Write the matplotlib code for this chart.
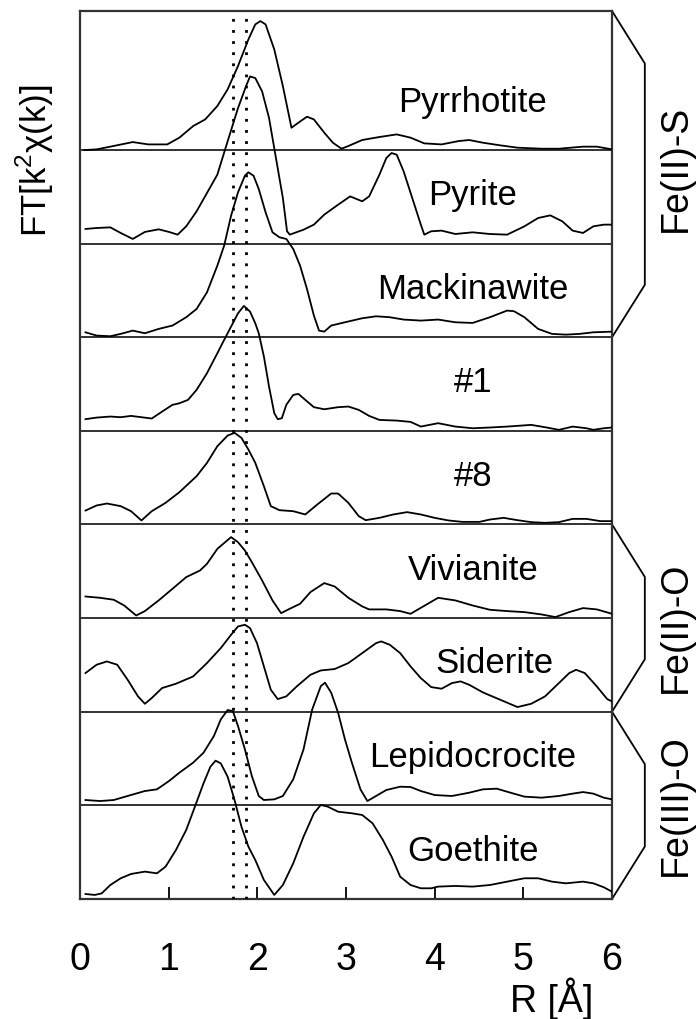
import matplotlib
matplotlib.use("Agg")
import matplotlib.pyplot as plt

plt.rcParams['font.family'] = ['Liberation Sans', 'DejaVu Sans']

# Spectra: R [A] and FT magnitude (one band = 1 unit)
names = ["Pyrrhotite", "Pyrite", "Mackinawite", "#1", "#8",
         "Vivianite", "Siderite", "Lepidocrocite", "Goethite"]

pyrrhotite_r = [0.05, 0.187, 0.342, 0.595, 0.770, 0.984, 1.121, 1.276, 1.412, 1.549, 1.665, 1.782, 1.899, 1.977,
                2.035, 2.093, 2.191, 2.288, 2.385, 2.463, 2.560, 2.638, 2.755, 2.852, 2.949, 3.027, 3.183, 3.377,
                3.572, 3.728, 3.883, 4.078, 4.272, 4.389, 4.545, 4.739, 4.934, 5.206, 5.401, 5.673, 5.829, 6.0]
pyrrhotite_ft = [0.0, 0.007, 0.036, 0.085, 0.060, 0.060, 0.132, 0.256, 0.327, 0.470, 0.648, 0.897, 1.181, 1.342,
                 1.377, 1.342, 1.075, 0.683, 0.238, 0.292, 0.356, 0.327, 0.185, 0.078, 0.014, 0.043, 0.107, 0.139,
                 0.167, 0.132, 0.071, 0.060, 0.096, 0.107, 0.078, 0.050, 0.025, 0.014, 0.014, 0.036, 0.036, 0.007]

pyrite_r = [0.062, 0.187, 0.342, 0.459, 0.595, 0.732, 0.887, 1.004, 1.101, 1.198, 1.315, 1.432, 1.549, 1.665,
            1.782, 1.879, 1.918, 1.977, 2.054, 2.132, 2.210, 2.288, 2.335, 2.366, 2.521, 2.638, 2.755, 2.911,
            3.047, 3.183, 3.261, 3.377, 3.455, 3.514, 3.572, 3.650, 3.747, 3.844, 3.883, 3.961, 4.078, 4.233,
            4.428, 4.623, 4.817, 5.012, 5.167, 5.304, 5.440, 5.556, 5.673, 5.790, 5.907, 6.0]
pyrite_ft = [0.157, 0.167, 0.174, 0.114, 0.050, 0.125, 0.153, 0.125, 0.096, 0.185, 0.345, 0.541, 0.737, 1.093,
             1.448, 1.698, 1.786, 1.769, 1.626, 1.342, 0.915, 0.488, 0.132, 0.096, 0.149, 0.203, 0.310, 0.416,
             0.505, 0.452, 0.505, 0.737, 0.915, 0.968, 0.950, 0.772, 0.488, 0.203, 0.096, 0.132, 0.139, 0.103,
             0.121, 0.103, 0.096, 0.185, 0.274, 0.302, 0.238, 0.139, 0.114, 0.185, 0.203, 0.203]

mackinawite_r = [0.062, 0.187, 0.342, 0.459, 0.595, 0.732, 0.887, 1.043, 1.198, 1.315, 1.432, 1.549, 1.626, 1.704,
                 1.782, 1.860, 1.899, 1.957, 2.016, 2.093, 2.171, 2.249, 2.327, 2.405, 2.482, 2.560, 2.638, 2.696,
                 2.755, 2.833, 2.988, 3.183, 3.339, 3.494, 3.650, 3.844, 4.039, 4.233, 4.428, 4.623, 4.817, 4.895,
                 5.012, 5.167, 5.323, 5.479, 5.634, 5.790, 6.0]
mackinawite_ft = [0.053, 0.018, 0.011, 0.036, 0.071, 0.043, 0.089, 0.125, 0.214, 0.302, 0.480, 0.765, 0.979, 1.299,
                  1.548, 1.726, 1.762, 1.726, 1.584, 1.335, 1.121, 1.068, 1.050, 0.943, 0.765, 0.516, 0.231, 0.071,
                  0.060, 0.125, 0.160, 0.203, 0.224, 0.214, 0.189, 0.178, 0.189, 0.160, 0.153, 0.214, 0.285, 0.278,
                  0.214, 0.089, 0.036, 0.028, 0.036, 0.053, 0.060]

s1_r = [0.062, 0.187, 0.342, 0.459, 0.576, 0.693, 0.809, 0.926, 1.043, 1.121, 1.218, 1.315, 1.432, 1.549, 1.626,
        1.704, 1.782, 1.848, 1.918, 1.977, 2.016, 2.074, 2.132, 2.191, 2.230, 2.276, 2.327, 2.405, 2.463, 2.541,
        2.638, 2.755, 2.911, 3.027, 3.144, 3.261, 3.377, 3.572, 3.728, 3.844, 4.039, 4.233, 4.428, 4.623, 4.817,
        5.089, 5.245, 5.401, 5.556, 5.712, 5.790, 5.907, 6.0]
s1_ft = [0.125, 0.142, 0.153, 0.146, 0.160, 0.146, 0.132, 0.206, 0.278, 0.295, 0.331, 0.438, 0.616, 0.829, 0.972,
         1.114, 1.256, 1.335, 1.274, 1.149, 1.043, 0.794, 0.473, 0.189, 0.125, 0.135, 0.278, 0.384, 0.395, 0.331,
         0.253, 0.231, 0.253, 0.260, 0.224, 0.160, 0.117, 0.110, 0.096, 0.046, 0.082, 0.046, 0.028, 0.036, 0.046,
         0.064, 0.039, 0.011, 0.046, 0.028, 0.011, 0.028, 0.036]

s8_r = [0.062, 0.187, 0.304, 0.459, 0.576, 0.693, 0.809, 0.965, 1.121, 1.315, 1.432, 1.549, 1.665, 1.743, 1.821,
        1.899, 1.977, 2.074, 2.152, 2.249, 2.405, 2.541, 2.677, 2.833, 2.911, 3.027, 3.144, 3.222, 3.377, 3.533,
        3.689, 3.844, 4.000, 4.156, 4.311, 4.506, 4.623, 4.778, 4.934, 5.089, 5.245, 5.401, 5.556, 5.712, 5.868, 6.0]
s8_ft = [0.149, 0.203, 0.224, 0.196, 0.142, 0.043, 0.142, 0.231, 0.345, 0.516, 0.658, 0.836, 0.950, 0.979, 0.925,
         0.801, 0.658, 0.409, 0.196, 0.153, 0.142, 0.107, 0.214, 0.331, 0.331, 0.231, 0.089, 0.046, 0.071, 0.107,
         0.132, 0.107, 0.071, 0.043, 0.028, 0.028, 0.053, 0.071, 0.046, 0.025, 0.018, 0.025, 0.060, 0.060, 0.036, 0.036]

vivianite_r = [0.062, 0.226, 0.381, 0.498, 0.634, 0.732, 0.887, 1.043, 1.198, 1.354, 1.432, 1.549, 1.704, 1.782,
               1.860, 1.938, 2.054, 2.171, 2.268, 2.366, 2.482, 2.599, 2.755, 2.872, 3.027, 3.183, 3.261, 3.455,
               3.611, 3.728, 3.844, 4.039, 4.233, 4.428, 4.623, 4.817, 5.012, 5.206, 5.362, 5.517, 5.673, 5.829, 6.0]
vivianite_ft = [0.231, 0.217, 0.196, 0.135, 0.028, 0.075, 0.189, 0.313, 0.438, 0.509, 0.580, 0.740, 0.865, 0.811,
                0.722, 0.598, 0.402, 0.189, 0.053, 0.100, 0.153, 0.278, 0.374, 0.338, 0.217, 0.125, 0.093, 0.093,
                0.075, 0.046, 0.110, 0.217, 0.189, 0.135, 0.089, 0.075, 0.064, 0.039, 0.011, 0.064, 0.107, 0.093, 0.046]

siderite_r = [0.062, 0.187, 0.304, 0.420, 0.537, 0.654, 0.732, 0.809, 0.926, 1.082, 1.276, 1.432, 1.588, 1.704,
              1.782, 1.860, 1.918, 1.996, 2.074, 2.152, 2.230, 2.327, 2.444, 2.599, 2.716, 2.872, 3.027, 3.183,
              3.339, 3.397, 3.494, 3.611, 3.728, 3.844, 3.961, 4.078, 4.195, 4.292, 4.389, 4.545, 4.739, 4.934,
              5.089, 5.245, 5.401, 5.518, 5.595, 5.693, 5.829, 5.946, 6.0]
siderite_ft = [0.413, 0.502, 0.537, 0.502, 0.342, 0.164, 0.085, 0.146, 0.253, 0.299, 0.377, 0.520, 0.680, 0.822,
               0.911, 0.929, 0.893, 0.733, 0.484, 0.235, 0.135, 0.164, 0.270, 0.395, 0.441, 0.456, 0.520, 0.626,
               0.733, 0.751, 0.715, 0.626, 0.484, 0.359, 0.263, 0.246, 0.306, 0.324, 0.288, 0.206, 0.128, 0.050,
               0.085, 0.164, 0.306, 0.413, 0.448, 0.413, 0.270, 0.135, 0.110]

lepidocrocite_r = [0.062, 0.226, 0.381, 0.537, 0.732, 0.868, 1.004, 1.121, 1.276, 1.393, 1.510, 1.588, 1.665, 1.724,
                   1.782, 1.860, 1.938, 2.016, 2.074, 2.191, 2.288, 2.405, 2.521, 2.619, 2.716, 2.763, 2.833, 2.911,
                   2.988, 3.066, 3.163, 3.241, 3.339, 3.455, 3.611, 3.728, 3.844, 4.000, 4.195, 4.389, 4.545, 4.700,
                   4.856, 5.012, 5.206, 5.401, 5.556, 5.673, 5.790, 5.907, 6.0]
lepidocrocite_ft = [0.057, 0.046, 0.057, 0.100, 0.153, 0.171, 0.260, 0.349, 0.456, 0.562, 0.740, 0.918, 1.018, 1.007,
                    0.847, 0.598, 0.313, 0.100, 0.057, 0.064, 0.100, 0.278, 0.598, 1.025, 1.274, 1.310, 1.203, 0.989,
                    0.705, 0.456, 0.171, 0.046, 0.100, 0.164, 0.199, 0.196, 0.153, 0.110, 0.100, 0.135, 0.171, 0.178,
                    0.135, 0.093, 0.082, 0.100, 0.125, 0.142, 0.125, 0.082, 0.064]

goethite_r = [0.062, 0.167, 0.245, 0.342, 0.459, 0.576, 0.732, 0.868, 0.965, 1.082, 1.198, 1.296, 1.393, 1.471,
              1.529, 1.588, 1.665, 1.743, 1.821, 1.899, 1.977, 2.074, 2.191, 2.288, 2.405, 2.521, 2.638, 2.716,
              2.794, 2.911, 3.066, 3.183, 3.300, 3.416, 3.514, 3.611, 3.728, 3.844, 3.961, 4.039, 4.233, 4.428,
              4.623, 4.817, 5.012, 5.167, 5.323, 5.479, 5.673, 5.790, 5.907, 6.0]
goethite_ft = [0.053, 0.043, 0.060, 0.149, 0.221, 0.267, 0.292, 0.274, 0.345, 0.523, 0.737, 0.986, 1.235, 1.413,
               1.477, 1.448, 1.306, 1.057, 0.772, 0.559, 0.416, 0.203, 0.043, 0.149, 0.381, 0.665, 0.915, 1.004,
               0.986, 0.932, 0.915, 0.897, 0.808, 0.630, 0.452, 0.238, 0.149, 0.114, 0.114, 0.132, 0.139, 0.132,
               0.149, 0.185, 0.221, 0.221, 0.185, 0.167, 0.185, 0.167, 0.125, 0.078]

spectra = [(pyrrhotite_r, pyrrhotite_ft), (pyrite_r, pyrite_ft), (mackinawite_r, mackinawite_ft),
           (s1_r, s1_ft), (s8_r, s8_ft), (vivianite_r, vivianite_ft), (siderite_r, siderite_ft),
           (lepidocrocite_r, lepidocrocite_ft), (goethite_r, goethite_ft)]

# Reference distances (dotted lines)
ref_r = [1.73, 1.87]

# Groups on the right: label, top band edge, bottom band edge
groups = [("Fe(II)-S", 9.485, 6), ("Fe(II)-O", 4, 2), ("Fe(III)-O", 2, 0)]

fig = plt.figure(figsize=(6.98, 10.19), dpi=100)
ax = fig.add_axes([0.1146, 0.1178, 0.7622, 0.8714])

n = len(spectra)
for i, (r, ft) in enumerate(spectra):
    off = n - 1 - i
    ax.plot(r, [v + off for v in ft], color='black', lw=1.3, zorder=3)
    if off > 0:
        ax.axhline(off, color='#222222', lw=1.3, zorder=2)
    xlab = 4.67 if names[i] == "Siderite" else 4.43
    ax.text(xlab, off + 0.41, names[i], ha='center', va='baseline', fontsize=25)

# dotted reference lines, a bit heavier dots like the original
for r0 in ref_r:
    ax.axvline(r0, color='black', lw=2.0, linestyle=(0, (1, 3)), zorder=4)

ax.set_xlim(0, 6)
ax.set_ylim(0, 9.485)
ax.set_yticks([])
ax.set_xticks(range(7))
ax.tick_params(axis='x', direction='in', length=8.6, width=1.3, pad=31, labelsize=27)
for sp in ax.spines.values():
    sp.set_linewidth(1.6)
    sp.set_color('#333333')

# Brackets on the right side
for label, top, bot in groups:
    ax.plot([6, 6.37, 6.37, 6], [top, top - 0.56, bot + 0.56, bot],
            color='black', lw=1.3, clip_on=False)

fig.text(0.968, 0.835, "Fe(II)-S", rotation=90, ha='center', va='center', fontsize=27)
fig.text(0.968, 0.384, "Fe(II)-O", rotation=90, ha='center', va='center', fontsize=27)
fig.text(0.968, 0.210, "Fe(III)-O", rotation=90, ha='center', va='center', fontsize=27)

fig.text(0.05, 0.842, r"FT[k$^{\mathregular{2}}$χ(k)]", rotation=90, ha='center', va='center', fontsize=25)
fig.text(0.791, 0.007, "R [Å]", ha='center', va='baseline', fontsize=27)

fig.savefig("out.png", dpi=100)
